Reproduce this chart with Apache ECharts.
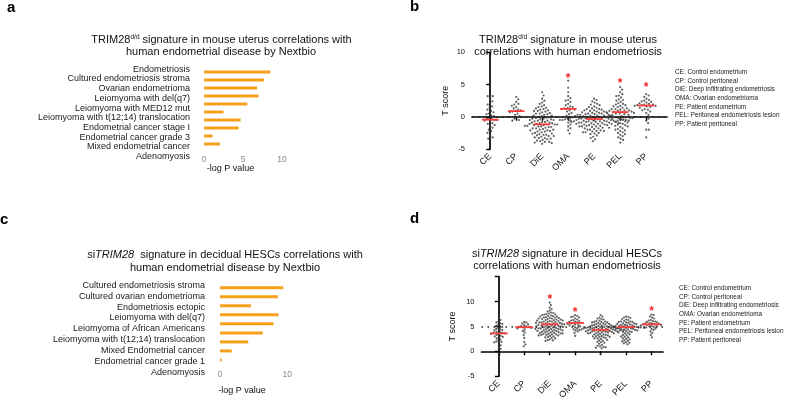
<!DOCTYPE html>
<html><head><meta charset="utf-8">
<script src="https://cdn.jsdelivr.net/npm/echarts@6/dist/echarts.min.js"></script>
<style>html,body{margin:0;padding:0;background:#fff}#c{width:800px;height:402px}</style>
</head><body><div id="c"></div><script>
const FONT = '"Liberation Sans", Arial, Helvetica, sans-serif';

// ---------- Panel a ----------
const aCategories = ['Endometriosis','Cultured endometriosis stroma','Ovarian endometrioma','Leiomyoma with del(q7)','Leiomyoma with MED12 mut','Leiomyoma with t(12;14) translocation','Endometrial cancer stage I','Endometrial cancer grade 3','Mixed endometrial cancer','Adenomyosis'];
const aValues = [8.5, 7.7, 6.8, 7.0, 5.55, 2.5, 4.7, 4.45, 1.1, 2.05];
const aTicks = [0, 5, 10];

// ---------- Panel c ----------
const cCategories = ['Cultured endometriosis stroma','Cultured ovarian endometrioma','Endometriosis ectopic','Leiomyoma with del(q7)','Leiomyoma of African Americans','Leiomyoma with t(12;14) translocation','Mixed Endometrial cancer','Endometrial cancer grade 1','Adenomyosis'];
const cValues = [9.4, 8.6, 4.6, 8.7, 7.95, 6.35, 4.2, 1.75, 0.25];
const cTicks = [0, 10];

// ---------- Panels b / d ----------
const groups = ['CE','CP','DiE','OMA','PE','PEL','PP'];
const legendLines = ['CE: Control endometrium','CP: Control peritoneal','DiE: Deep infiltrating endometriosis','OMA: Ovarian endometrioma','PE: Patient endometrium','PEL: Peritoneal endometriosis lesion','PP: Patient peritoneal'];

const bCE = [3.3,3.2,3.2,2.7,2.4,2.0,1.9,1.6,1.4,1.1,0.9,0.7,0.5,0.4,0.2,0.1,0.0,-0.2,-0.3,-0.4,-0.5,-0.5,-0.6,-0.8,-1.0,-1.1,-1.3,-1.5,-1.7,-2.0,-2.2,-2.5,-3.0,-3.2,-3.4];
const bCP = [3.1,2.7,2.3,2.0,1.9,1.7,1.5,1.3,1.1,1.0,0.9,0.8,0.7,0.5,0.3,0.1,-0.1,-0.3,-0.5,-0.6];
const bDiE = [3.8,3.3,2.8,2.5,2.2,2.0,1.8,1.6,1.5,1.3,1.2,1.0,0.9,0.8,0.6,0.5,0.4,0.3,0.2,0.1,0.0,-0.1,-0.2,-0.3,-0.4,-0.5,-0.5,-0.6,-0.7,-0.8,-0.8,-0.9,-1.0,-1.0,-1.1,-1.1,-1.2,-1.2,-1.2,-1.3,-1.3,-1.4,-1.5,-1.5,-1.6,-1.7,-1.8,-1.8,-1.9,-2.0,-2.0,-2.1,-2.2,-2.3,-2.3,-2.4,-2.5,-2.6,-2.6,-2.7,-2.8,-2.9,-3.0,-3.0,-3.1,-3.2,-3.3,-3.4,-3.5,-3.6,-3.7,-3.8,-3.9,-4.0,-4.1,-4.2,1.1,0.7,0.2,-0.3,-0.6,1.4,0.9,-0.1,-0.9,-1.4,0.5,-0.4,-1.6,-2.1,-2.8,-3.3,-3.9];
const bOMA = [5.6,4.5,3.8,3.2,2.9,2.6,2.5,2.3,2.0,1.8,1.6,1.5,1.4,1.3,1.2,1.1,1.0,0.8,0.6,0.4,0.2,0.0,-0.3,-0.6,-0.9,-1.2,-1.5,-1.8,-2.1,-2.6];
const bPE = [2.8,2.6,2.4,2.2,2.0,1.9,1.8,1.6,1.5,1.4,1.3,1.2,1.1,1.0,1.0,0.9,0.8,0.8,0.7,0.6,0.6,0.5,0.4,0.4,0.3,0.3,0.2,0.2,0.1,0.1,0.0,0.0,-0.1,-0.1,-0.1,-0.2,-0.2,-0.2,-0.3,-0.3,-0.3,-0.4,-0.4,-0.4,-0.4,-0.5,-0.5,-0.5,-0.5,-0.6,-0.6,-0.6,-0.7,-0.7,-0.7,-0.8,-0.8,-0.8,-0.9,-0.9,-1.0,-1.0,-1.1,-1.1,-1.2,-1.2,-1.3,-1.3,-1.4,-1.4,-1.5,-1.5,-1.6,-1.7,-1.7,-1.8,-1.9,-2.0,-2.1,-2.2,-2.3,-2.4,-2.5,-2.6,-2.7,-2.9,-3.1,-3.3,-3.5,-3.8,0.5,0.2,-0.1,-0.3,-0.5,-0.6,-0.8,-1.0,1.2,0.7,-0.2,-0.4,-1.1,-1.5,-0.9,0.0,0.3,-0.7,-2.0,-2.4,-1.2,-0.6,-0.3,0.1,-1.8,-2.2];
const bPEL = [4.6,4.2,3.8,3.5,3.2,3.0,2.7,2.5,2.3,2.1,2.0,1.8,1.7,1.5,1.4,1.3,1.2,1.1,1.0,0.9,0.8,0.8,0.7,0.7,0.6,0.5,0.4,0.3,0.2,0.1,0.0,-0.1,-0.2,-0.3,-0.4,-0.5,-0.6,-0.8,-0.9,-1.0,-1.2,-1.3,-1.5,-1.6,-1.8,-1.9,-2.1,-2.2,-2.4,-2.5,-2.7,-2.8,-3.0,-3.2,-3.4,-3.6,-4.0,2.6,1.6,1.0,0.5,-0.2,-0.7,-1.4,-2.0,3.3,1.9,0.9,0.3,0.0,-1.1,1.2,0.6];
const bPP = [3.5,3.3,3.1,2.8,2.6,2.5,2.4,2.3,2.2,2.1,2.0,1.9,1.9,1.8,1.8,1.7,1.7,1.6,1.5,1.4,1.2,1.1,1.0,0.8,0.6,0.3,0.0,-0.3,-0.6,-1.0,-2.0,-2.0,-3.2];
const bMedians = [-0.45, 0.88, -1.17, 1.22, -0.35, 0.72, 1.75];
const bStars = [null, null, null, 6.35, null, 5.6, 5.05];
const bTicks = [-5, 0, 5, 10];
const bReference = 0;

const dCE = [6.7,6.3,6.0,5.8,5.6,5.5,5.3,5.1,5.0,4.9,4.7,4.5,4.4,4.3,4.2,4.0,3.9,3.8,3.7,3.7,3.6,3.5,3.4,3.3,3.1,3.0,2.9,2.8,2.6,2.4,2.2,2.0,1.9,1.8,1.5,1.2,0.8,0.5,-0.4];
const dCP = [5.9,5.8,5.6,5.4,5.3,5.1,5.0,4.9,4.9,4.8,4.7,4.6,4.4,4.1,3.8,3.3,2.7,1.9,1.4,1.0];
const dDiE = [9.8,9.3,8.8,8.5,8.2,8.0,7.8,7.6,7.5,7.4,7.3,7.2,7.1,7.0,6.9,6.8,6.7,6.6,6.5,6.4,6.3,6.2,6.1,6.0,5.9,5.8,5.7,5.6,5.5,5.4,5.3,5.2,5.1,5.0,4.9,4.8,4.7,4.6,4.5,4.4,4.3,4.2,4.1,4.0,3.9,3.8,3.7,3.6,3.5,3.4,3.3,3.2,3.0,2.8,2.6,2.4,2.2,2.1,7.4,7.1,6.8,6.6,6.4,6.2,6.0,5.8,5.6,5.5,5.4,5.3,5.1,5.0,4.8,4.7,4.5,4.3,4.1,3.9,3.7,3.5,3.3,3.1,2.9,7.7,7.0,6.7,6.3,5.9,5.7,5.2,4.9,4.6,4.4,4.0,3.6,3.2,6.5,6.1,5.5,5.0,4.5,4.2,3.8,3.4,2.7,2.3];
const dOMA = [7.3,7.1,7.0,6.9,6.8,6.6,6.4,6.3,6.2,6.1,6.0,5.9,5.8,5.7,5.7,5.6,5.5,5.4,5.3,5.2,5.1,5.0,4.8,4.6,4.4,4.2,4.0,3.7,3.1];
const dPE = [7.3,7.0,6.8,6.6,6.4,6.2,6.1,6.0,5.9,5.8,5.7,5.6,5.5,5.4,5.3,5.2,5.1,5.0,5.0,4.9,4.9,4.8,4.8,4.7,4.7,4.6,4.6,4.5,4.5,4.4,4.4,4.4,4.3,4.3,4.2,4.2,4.1,4.1,4.0,4.0,3.9,3.9,3.8,3.7,3.6,3.5,3.4,3.3,3.2,3.1,3.0,2.9,2.8,2.7,2.6,2.5,2.3,2.1,1.9,1.7,1.5,1.3,1.1,0.9,0.8,0.6,-0.5,5.8,5.5,5.2,5.0,4.8,4.6,4.5,4.3,4.1,3.9,3.6,3.3,3.0,2.6,2.2,1.8,6.5,5.9,5.4,4.7,4.2,3.8,3.4,2.9,1.0,0.7,4.6,4.4,4.2,4.0,3.7,5.1,4.9];
const dPEL = [7.0,6.9,6.7,6.5,6.3,6.1,6.0,5.9,5.8,5.7,5.6,5.5,5.4,5.3,5.2,5.1,5.0,4.9,4.9,4.8,4.8,4.7,4.7,4.6,4.5,4.4,4.3,4.2,4.1,4.0,3.9,3.8,3.6,3.4,3.2,3.0,2.8,2.6,2.4,2.2,2.0,1.8,1.6,1.4,-0.1,6.8,6.4,6.0,5.6,5.3,5.0,4.6,4.2,3.7,3.3,2.9,2.5,2.1,1.7,5.9,5.5,5.1,4.8,4.4,3.9,5.2,4.9,4.5];
const dPP = [7.4,7.3,7.0,6.8,6.6,6.3,6.2,6.1,6.0,5.9,5.8,5.7,5.6,5.6,5.5,5.5,5.4,5.4,5.3,5.3,5.2,5.2,5.1,5.0,5.0,4.9,4.8,4.7,4.6,4.5,4.3,4.0,3.7,3.3,2.8];
const dMedians = [3.6, 4.85, 5.42, 5.7, 4.3, 4.85, 5.42];
const dStars = [null, null, 10.95, 8.35, null, null, 8.6];
const dTicks = [-5, 0, 5, 10];
const dReference = 5;

const bGroups = [bCE, bCP, bDiE, bOMA, bPE, bPEL, bPP];
const dGroups = [dCE, dCP, dDiE, dOMA, dPE, dPEL, dPP];

// Beeswarm layout: each value keeps its y; x offset is the free position
// closest to the column centre. Collision test uses an ellipse of
// half-axes Dx (horizontal) and Dy (vertical) in pixels; kx/ky = px per unit.
function swarm(values, idx, kx, ky, Dx, Dy) {
  const sorted = values.slice().sort((a, b) => b - a);
  const placed = [];
  const out = [];
  sorted.forEach(v => {
    const y = v * ky;
    const near = placed.filter(p => Math.abs(p[1] - y) < Dy);
    const cands = [0];
    near.forEach(p => { const r = (p[1] - y) / Dy; const w = Dx * Math.sqrt(1 - r * r); cands.push(p[0] + w, p[0] - w); });
    cands.sort((a, b) => Math.abs(a) - Math.abs(b));
    let x = 0;
    for (const c of cands) {
      if (near.every(p => { const ex = (c - p[0]) / Dx, ey = (y - p[1]) / Dy; return ex * ex + ey * ey >= 1 - 1e-6; })) { x = c; break; }
    }
    placed.push([x, y]);
    out.push([idx + x / kx, v]);
  });
  return out;
}

const ORANGE = '#f7a01c';
const DOT = '#3a3a3a';
const RED = '#ff3d3d';

const barLabelAxis = (cats, margin) => ({ type: 'category', data: cats, inverse: true,
  axisLine: { show: false }, axisTick: { show: false },
  axisLabel: { interval: 0, color: '#1a1a1a', fontSize: 9, fontFamily: FONT, margin: margin } });

function scatterX(gridIndex, min, max) {
  return { gridIndex, type: 'value', min, max, splitLine: { show: false },
    axisLine: { lineStyle: { color: '#000', width: 1.7 } },
    axisTick: { customValues: groups.map((g, i) => i), length: 4, lineStyle: { color: '#000', width: 1.4 } },
    axisLabel: { customValues: groups.map((g, i) => i), formatter: v => groups[Math.round(v)], rotate: 45,
      fontSize: 9, fontFamily: FONT, color: '#111', margin: 6 } };
}
function scatterY(gridIndex, min, max, ticks, gap) {
  return { gridIndex, type: 'value', min, max, interval: 5, splitLine: { show: false },
    name: 'T score', nameLocation: 'middle', nameGap: gap, nameRotate: 90,
    nameTextStyle: { fontSize: 9, fontFamily: FONT, color: '#111' },
    axisLine: { show: true, lineStyle: { color: '#000', width: 1.7 } },
    axisTick: { show: true, length: 4, lineStyle: { color: '#000', width: 1.4 } },
    axisLabel: { fontSize: 7.5, fontFamily: FONT, color: '#111', margin: 7,
      formatter: v => ticks.indexOf(v) >= 0 ? String(v) : '' } };
}

function scatterSeries(groupsData, axisIndex, kx, ky, Dx, Dy, reference) {
  const list = [];
  groupsData.forEach((vals, i) => {
    list.push({ type: 'scatter', xAxisIndex: axisIndex, yAxisIndex: axisIndex, data: swarm(vals, i, kx, ky, Dx, Dy),
      symbol: 'circle', symbolSize: 2.2, itemStyle: { color: DOT }, silent: true, z: 3,
      markLine: i === 0 ? { silent: true, symbol: 'none', label: { show: false },
        lineStyle: { color: '#222', type: [1.5, 4.5], width: 1.5 }, data: [{ yAxis: reference }] } : undefined });
  });
  return list;
}
function medianSeries(medians, axisIndex, hw) {
  return { type: 'custom', xAxisIndex: axisIndex, yAxisIndex: axisIndex, z: 5, silent: true,
    data: medians.map((m, i) => [i, m]),
    renderItem: (params, api) => {
      const i = api.value(0), m = api.value(1);
      const p1 = api.coord([i - hw, m]), p2 = api.coord([i + hw, m]);
      return { type: 'line', shape: { x1: p1[0], y1: p1[1], x2: p2[0], y2: p2[1] }, style: { stroke: RED, lineWidth: 1.8 } };
    } };
}
function starSeries(stars, axisIndex) {
  return { type: 'custom', xAxisIndex: axisIndex, yAxisIndex: axisIndex, z: 6, silent: true,
    data: stars.map((s, i) => [i, s]).filter(d => d[1] != null),
    renderItem: (params, api) => {
      const p = api.coord([api.value(0), api.value(1)]);
      return { type: 'text', x: p[0], y: p[1] + 3, style: { text: '*', fill: '#f0282a', fontSize: 12, fontWeight: 'bold',
        fontFamily: FONT, align: 'center', verticalAlign: 'middle' } };
    } };
}

const rich = {
  sup: { fontSize: 6.5, fontFamily: FONT, fill: '#111', verticalAlign: 'top', lineHeight: 7 },
  it: { fontSize: 11, fontFamily: FONT, fontStyle: 'italic', fill: '#111' }
};
function txt(text, x, y, extra) {
  return { type: 'text', x, y, silent: true,
    style: Object.assign({ text, fontSize: 11, fontFamily: FONT, fill: '#111', align: 'center', verticalAlign: 'middle', rich, lineHeight: 13 }, extra || {}) };
}

const graphics = [
  txt('a', 7, 8, { fontSize: 15, fontWeight: 'bold', align: 'left', fill: '#000' }),
  txt('b', 410, 7, { fontSize: 15, fontWeight: 'bold', align: 'left', fill: '#000' }),
  txt('c', 0, 220, { fontSize: 15, fontWeight: 'bold', align: 'left', fill: '#000' }),
  txt('d', 410, 219, { fontSize: 15, fontWeight: 'bold', align: 'left', fill: '#000' }),
  txt('TRIM28{sup|d/d} signature in mouse uterus correlations with', 221.5, 40),
  txt('human endometrial disease by Nextbio', 221, 52),
  txt('TRIM28{sup|d/d} signature in mouse uterus', 568, 40),
  txt('correlations with human endometriosis', 568, 52),
  txt('si{it|TRIM28}  signature in decidual HESCs correlations with', 225, 255),
  txt('human endometrial disease by Nextbio', 225, 268.3),
  txt('si{it|TRIM28} signature in decidual HESCs', 567, 254.3),
  txt('correlations with human endometriosis', 567, 266),
  txt('-log P value', 230.5, 169, { fontSize: 9 }),
  txt('-log P value', 242, 390.5, { fontSize: 9 }),
  txt(legendLines.join('\n'), 675, 68, { fontSize: 6.4, align: 'left', verticalAlign: 'top', lineHeight: 8.67, fill: '#1a1a1a' }),
  txt(legendLines.join('\n'), 679, 284, { fontSize: 6.4, align: 'left', verticalAlign: 'top', lineHeight: 8.67, fill: '#1a1a1a' })
];

// pixels per axis unit of the two dot-plot grids
const bKx = 195 / 7.5, bKy = 96.7 / 15;
const dKx = 181.5 / 7.13, dKy = 103.3 / 20;

const option = {
  animation: false,
  backgroundColor: '#fff',
  textStyle: { fontFamily: FONT },
  grid: [
    { left: 204, top: 68, width: 78, height: 80 },        // a bars
    { left: 192, top: 64.4, width: 1, height: 97.1 },     // a labels
    { left: 220, top: 283.2, width: 67.3, height: 81.3 }, // c bars
    { left: 207, top: 279.9, width: 1, height: 97.9 },    // c labels
    { left: 472, top: 52.3, width: 195, height: 96.7 },   // b scatter
    { left: 481.5, top: 276.7, width: 181.5, height: 103.3 } // d scatter
  ],
  xAxis: [
    { gridIndex: 0, type: 'value', min: 0, max: 10, interval: 5, splitLine: { show: false }, axisLine: { show: false }, axisTick: { show: false },
      axisLabel: { color: '#8a8a8a', fontSize: 8.5, fontFamily: FONT, margin: 7, customValues: aTicks } },
    { gridIndex: 1, type: 'value', show: false },
    { gridIndex: 2, type: 'value', min: 0, max: 10, interval: 10, splitLine: { show: false }, axisLine: { show: false }, axisTick: { show: false },
      axisLabel: { color: '#8a8a8a', fontSize: 8.5, fontFamily: FONT, margin: 6, customValues: cTicks } },
    { gridIndex: 3, type: 'value', show: false },
    scatterX(4, -0.7, 6.8),
    scatterX(5, -0.68, 6.45)
  ],
  yAxis: [
    { gridIndex: 0, type: 'category', data: aCategories, inverse: true, show: false },
    Object.assign({ gridIndex: 1 }, barLabelAxis(aCategories, 2)),
    { gridIndex: 2, type: 'category', data: cCategories, inverse: true, show: false },
    Object.assign({ gridIndex: 3 }, barLabelAxis(cCategories, 2)),
    scatterY(4, -5, 10, bTicks, 22),
    scatterY(5, -5, 15, dTicks, 24)
  ],
  series: [
    { type: 'bar', xAxisIndex: 0, yAxisIndex: 0, data: aValues, barWidth: 3, itemStyle: { color: ORANGE }, silent: true },
    { type: 'scatter', xAxisIndex: 1, yAxisIndex: 1, data: [] },
    { type: 'bar', xAxisIndex: 2, yAxisIndex: 2, data: cValues, barWidth: 3, itemStyle: { color: ORANGE }, silent: true },
    { type: 'scatter', xAxisIndex: 3, yAxisIndex: 3, data: [] },
    ...scatterSeries(bGroups, 4, bKx, bKy, 2.6, 3.8, bReference),
    medianSeries(bMedians, 4, 0.32),
    starSeries(bStars, 4),
    ...scatterSeries(dGroups, 5, dKx, dKy, 2.2, 3.0, dReference),
    medianSeries(dMedians, 5, 0.35),
    starSeries(dStars, 5)
  ],
  graphic: graphics
};

const chart = echarts.init(document.getElementById('c'), null, { renderer: 'canvas' });
chart.setOption(option);
</script></body></html>
